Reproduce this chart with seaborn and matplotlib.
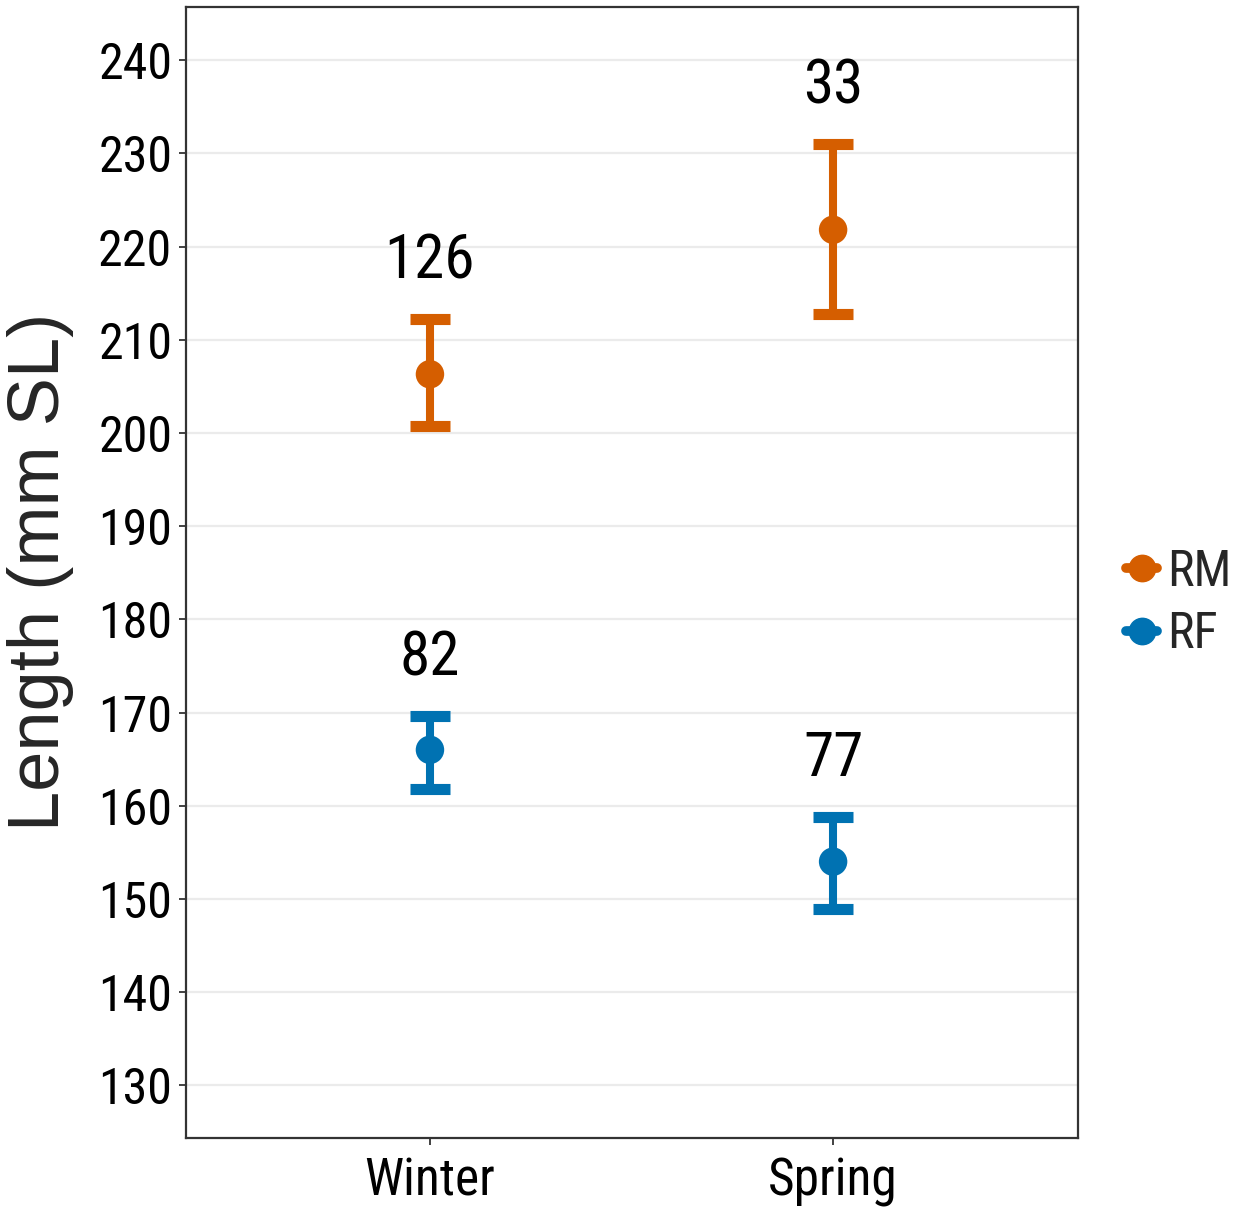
import matplotlib
matplotlib.use("Agg")
import matplotlib.pyplot as plt
from matplotlib.lines import Line2D
from matplotlib import font_manager as fm
import seaborn as sns
import pandas as pd

# Mean standard length with interval bounds, per season and group
seasons = ["Winter", "Spring"]
groups = ["RM", "RF"]
mean_rm = [206.3, 221.8]
low_rm = [200.7, 212.8]
high_rm = [212.2, 231.0]
mean_rf = [166.0, 154.0]
low_rf = [161.8, 148.9]
high_rf = [169.6, 158.8]
n_rm = [126, 33]
n_rf = [82, 77]
y_ticks = [130, 140, 150, 160, 170, 180, 190, 200, 210, 220, 230, 240]

colors = {"RM": "#D55E00", "RF": "#0072B2"}

df = pd.DataFrame({
    "season": seasons * 2,
    "group": ["RM"] * 2 + ["RF"] * 2,
    "mean": mean_rm + mean_rf,
    "low": low_rm + low_rf,
    "high": high_rm + high_rf,
    "n": n_rm + n_rf,
})

sns.set_style("white")

# Prefer a narrow sans face when one is installed; otherwise use Liberation Sans
# at slightly reduced sizes.
installed = {f.name for f in fm.fontManager.ttflist}
narrow = next((n for n in ["Liberation Sans Narrow", "Arial Narrow",
                           "Roboto Condensed", "Open Sans Condensed"]
               if n in installed), None)
if narrow:
    plt.rcParams["font.family"] = [narrow, "Liberation Sans", "DejaVu Sans"]
    tick_fs, n_fs, x_fs, leg_fs = 36, 44, 37, 36
else:
    plt.rcParams["font.family"] = ["Liberation Sans", "DejaVu Sans"]
    tick_fs, n_fs, x_fs, leg_fs = 33, 38, 32, 30

fig = plt.figure(figsize=(12.42, 12.17), dpi=100)
ax = fig.add_axes([0.1498, 0.0653, 0.7180, 0.9289])

sns.scatterplot(data=df, x="season", y="mean", hue="group", hue_order=groups,
                palette=colors, s=420, linewidth=0, legend=False, zorder=4, ax=ax)

pos = {s: i for i, s in enumerate(seasons)}
label_offset = 6.2
for _, row in df.iterrows():
    x = pos[row["season"]]
    c = colors[row["group"]]
    ax.errorbar([x], [row["mean"]],
                yerr=[[row["mean"] - row["low"]], [row["high"] - row["mean"]]],
                fmt="none", ecolor=c, elinewidth=5.8, capsize=14.5, capthick=8,
                zorder=3)
    ax.text(x, row["high"] + label_offset, f"{row['n']}", ha="center", va="center",
            fontsize=n_fs, color="black", zorder=5)

ax.set_xlim(-0.605, 1.607)
ax.set_ylim(124.4, 245.7)
ax.set_yticks(y_ticks)
ax.set_xticks(range(len(seasons)))
ax.set_xticklabels(seasons)

ax.grid(False)
for t in y_ticks:
    ax.axhline(t, color="#EBEBEB", lw=1.6, zorder=0)

for sp in ax.spines.values():
    sp.set_color("#333333")
    sp.set_linewidth(1.6)

ax.tick_params(axis="both", which="major", length=5, width=1.3, color="#333333",
               labelcolor="black", direction="out", left=True, bottom=True)
ax.tick_params(axis="y", pad=5, labelsize=tick_fs)
ax.tick_params(axis="x", pad=9, labelsize=x_fs)

ax.set_xlabel("")
ax.set_ylabel("Length (mm SL)", fontsize=52, family=["Liberation Sans", "DejaVu Sans"],
              va="center")
ax.yaxis.set_label_coords(-0.163, 0.5)

handles = [Line2D([], [], color=colors[g], marker="o", markersize=19, lw=7)
           for g in groups]
fig.legend(handles, groups, loc="center left",
           bbox_to_anchor=(1126 / 1242, 1 - 603 / 1217),
           frameon=False, fontsize=leg_fs, handlelength=0.62, handletextpad=0.2,
           labelspacing=0.3, borderpad=0, borderaxespad=0)

fig.savefig("out.png", dpi=100)
